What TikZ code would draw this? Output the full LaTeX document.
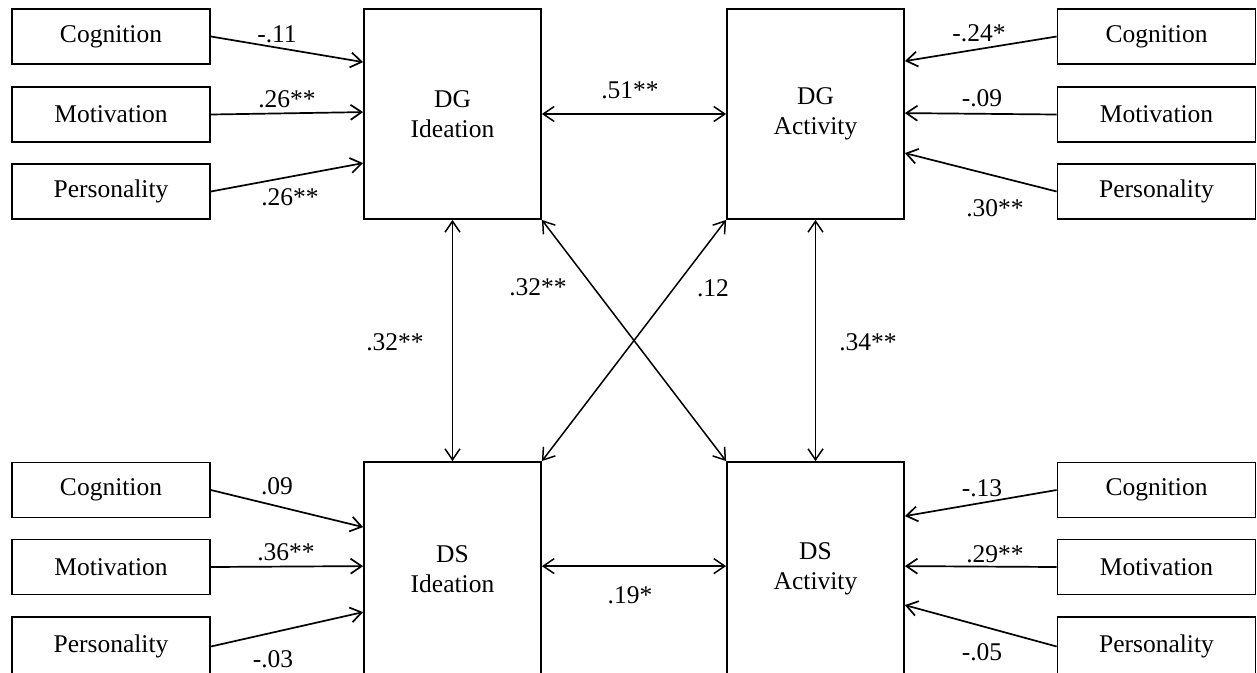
\documentclass[tikz,border=0pt]{standalone}
\usepackage{fontspec}
\setmainfont{Liberation Serif}
\usetikzlibrary{arrows.meta,calc}
\begin{document}
\begin{tikzpicture}[x=1pt,y=-1pt,
  every node/.style={font=\fontsize{25.5}{30}\selectfont},
  varbox/.style={draw, line width=1.8pt, minimum width=198pt, minimum height=55pt, inner sep=0pt},
  latent/.style={draw, line width=1.8pt, minimum width=177pt, minimum height=210pt, inner sep=0pt, align=center},
  tip/.tip={Straight Barb[length=11pt,width=15pt]},
  effect/.style={line width=1.7pt, -tip},
  covar/.style={line width=1.5pt, tip-tip},
  coef/.style={inner sep=0pt}]
\path[use as bounding box] (0,0) rectangle (1257,672);
\clip (0,0) rectangle (1257,672);

% predictors, top left
\node[varbox] (cogA) at (111,36.5)  {Cognition};
\node[varbox] (motA) at (111,114.5) {Motivation};
\node[varbox] (perA) at (111,191.5) {Personality};
% predictors, top right
\node[varbox] (cogB) at (1156.5,36.5)  {Cognition};
\node[varbox] (motB) at (1156.5,114.5) {Motivation};
\node[varbox] (perB) at (1156.5,191.5) {Personality};
% predictors, bottom left
\node[varbox] (cogC) at (111,490) {Cognition};
\node[varbox] (motC) at (111,567) {Motivation};
\node[varbox, minimum height=59pt] (perC) at (111,646.5) {Personality};
% predictors, bottom right
\node[varbox] (cogD) at (1156.5,490) {Cognition};
\node[varbox] (motD) at (1156.5,567) {Motivation};
\node[varbox, minimum height=59pt] (perD) at (1156.5,646.5) {Personality};

% outcome variables
\node[latent] (dgi) at (452.5,114) {DG\\Ideation};
\node[latent] (dga) at (815.5,114) {DG\\Activity};
\node[latent, minimum height=214pt] (dsi) at (452.5,569) {DS\\Ideation};
\node[latent, minimum height=214pt] (dsa) at (815.5,569) {DS\\Activity};

% regression paths
\draw[effect] (cogA.east) -- ([yshift=-54pt]dgi.north west);
\draw[effect] (motA.east) -- ([yshift=-104pt]dgi.north west);
\draw[effect] (perA.east) -- ([yshift=-155pt]dgi.north west);

\draw[effect] (cogB.west) -- ([yshift=-53pt]dga.north east);
\draw[effect] (motB.west) -- ([yshift=-105pt]dga.north east);
\draw[effect] (perB.west) -- ([yshift=-145pt]dga.north east);

\draw[effect] (cogC.east) -- ([yshift=-66pt]dsi.north west);
\draw[effect] (motC.east) -- ([yshift=-105pt]dsi.north west);
\draw[effect] (perC.east) -- ([yshift=-151pt]dsi.north west);

\draw[effect] (cogD.west) -- ([yshift=-55pt]dsa.north east);
\draw[effect] (motD.west) -- ([yshift=-105pt]dsa.north east);
\draw[effect] (perD.west) -- ([yshift=-144pt]dsa.north east);

% correlations among outcomes
\draw[covar] (dgi.east) -- (dga.west);
\draw[covar] ([yshift=-105pt]dsi.north east) -- ([yshift=-105pt]dsa.north west);
\draw[covar] (dgi.south) -- (dsi.north);
\draw[covar] (dga.south) -- (dsa.north);
\draw[covar] (dgi.south east) -- (dsa.north west);
\draw[covar] (dga.south west) -- (dsi.north east);

% coefficients
\node[coef] (k1)  at (277,34)  {-.11};
\node[coef] (k2)  at (287,99)  {.26**};
\node[coef] (k3)  at (290,197) {.26**};
\node[coef] (k4)  at (630,90)  {.51**};
\node[coef] (k5)  at (979,33)  {-.24*};
\node[coef] (k6)  at (982,98)  {-.09};
\node[coef] (k7)  at (995,208) {.30**};
\node[coef] (k8)  at (395,342) {.32**};
\node[coef] (k9)  at (538,287) {.32**};
\node[coef] (k10) at (713,288) {.12};
\node[coef] (k11) at (868,342) {.34**};
\node[coef] (k12) at (277,486) {.09};
\node[coef] (k13) at (286,552) {.36**};
\node[coef] (k14) at (273,659) {-.03};
\node[coef] (k15) at (630,595) {.19*};
\node[coef] (k16) at (982,488) {-.13};
\node[coef] (k17) at (995,554) {.29**};
\node[coef] (k18) at (982,652) {-.05};
\end{tikzpicture}
\end{document}
